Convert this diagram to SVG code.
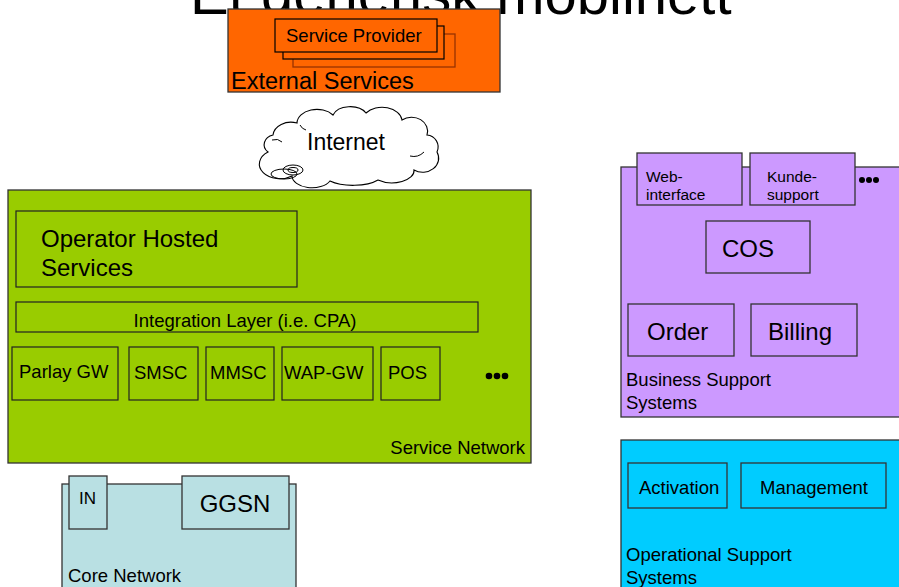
<svg xmlns="http://www.w3.org/2000/svg" width="899" height="587" viewBox="0 0 899 587">
<style>
text{font-family:"Liberation Sans",Arial,sans-serif;fill:#000}
.box{stroke:#333;stroke-width:1.3}
.inner{fill:none;stroke:#222;stroke-width:1.2}
.g{fill:#99CC00}.p{fill:#CC99FF}.c{fill:#00CCFF}.o{fill:#FF6600}.cn{fill:#B9E0E3}
.lbl{font-size:18.5px}
</style>
<rect width="899" height="587" fill="#fff"/>
<text x="190" y="14" font-size="58">Et generisk mobilnett</text>

<g id="external-services">
<rect class="box o" x="228" y="9" width="272" height="83"/>
<rect x="293" y="34" width="162" height="33" fill="#FF6600" stroke="#993300" stroke-width="1.3"/>
<rect x="283" y="26" width="161" height="33" fill="#FF6600" stroke="#000" stroke-width="1.2"/>
<rect x="275" y="19" width="162" height="33" fill="#FF6600" stroke="#000" stroke-width="1.2"/>
<text x="286" y="42" font-size="18.5">Service Provider</text>
<text x="231" y="89" font-size="23.5">External Services</text>
</g>

<g id="internet">
<path d="M268,152 A12,10 0 0 1 273,135 A18,14 0 0 1 297,123 A20,14 0 0 1 333,115 A18,12 0 0 1 366,113 A20,14 0 0 1 402,120 A16,14 0 0 1 427,135 A12,12 0 0 1 437,152 A16,14 0 0 1 414,170 A22,12 0 0 1 378,180 A30,12 0 0 1 330,181 A20,12 0 0 1 292,176 A14,10 0 0 1 268,152 Z" fill="#fff" stroke="#000" stroke-width="1.1"/>
<path d="M272,140 q6,-2 10,2 M410,156 q8,2 14,-4 M300,125 q2,4 6,5" fill="none" stroke="#000" stroke-width="1"/>
<ellipse cx="284" cy="174" rx="13" ry="5" fill="none" stroke="#000" stroke-width="1"/>
<ellipse cx="293" cy="170" rx="10" ry="5" fill="none" stroke="#000" stroke-width="1"/>
<ellipse cx="293" cy="170" rx="5" ry="2.5" fill="none" stroke="#000" stroke-width="1"/>
<text x="307" y="150" font-size="23">Internet</text>
</g>

<g id="service-network">
<rect class="box g" x="8" y="190" width="523" height="273"/>
<text x="525" y="454" class="lbl" text-anchor="end">Service Network</text>
</g>
<g id="operator-hosted">
<rect class="inner" x="16" y="211" width="281" height="76" stroke="#333"/>
<text x="41" y="247" font-size="24">Operator Hosted</text>
<text x="41" y="276" font-size="24">Services</text>
</g>
<g id="integration-layer">
<rect class="inner" x="16" y="302" width="462" height="30"/>
<text x="245" y="327" font-size="18.5" text-anchor="middle">Integration Layer (i.e. CPA)</text>
</g>
<g id="parlay-gw"><rect class="inner" x="12" y="347" width="106" height="53"/><text x="19" y="378" font-size="18.5">Parlay GW</text></g>
<g id="smsc"><rect class="inner" x="129" y="347" width="69" height="53"/><text x="134" y="379" font-size="18.5">SMSC</text></g>
<g id="mmsc"><rect class="inner" x="206" y="347" width="68" height="53"/><text x="210" y="379" font-size="18.5">MMSC</text></g>
<g id="wap-gw"><rect class="inner" x="282" y="347" width="91" height="53"/><text x="284" y="379" font-size="18.5">WAP-GW</text></g>
<g id="pos"><rect class="inner" x="381" y="347" width="59" height="53"/><text x="388" y="379" font-size="18.5">POS</text></g>
<g id="sn-more"><circle cx="489" cy="376" r="3.3"/><circle cx="497" cy="376" r="3.3"/><circle cx="505" cy="376" r="3.3"/></g>

<g id="bss">
<rect class="box p" x="621" y="167" width="285" height="250"/>
<text x="626" y="386" class="lbl">Business Support</text>
<text x="626" y="409" class="lbl">Systems</text>
</g>
<g id="web-interface"><rect class="box p" x="637" y="153" width="105" height="52"/><text x="646" y="182" font-size="15.5">Web-</text><text x="646" y="200" font-size="15.5">interface</text></g>
<g id="kundesupport"><rect class="box p" x="750" y="153" width="105" height="52"/><text x="767" y="182" font-size="15.5">Kunde-</text><text x="767" y="200" font-size="15.5">support</text></g>
<g id="bss-more"><circle cx="862" cy="180" r="3"/><circle cx="869" cy="180" r="3"/><circle cx="876" cy="180" r="3"/></g>
<g id="cos"><rect class="box" fill="none" x="706" y="221" width="104" height="52"/><text x="748" y="257" font-size="24" text-anchor="middle">COS</text></g>
<g id="order"><rect class="box" fill="none" x="628" y="304" width="106" height="52"/><text x="647" y="340" font-size="24">Order</text></g>
<g id="billing"><rect class="box" fill="none" x="751" y="304" width="106" height="52"/><text x="768" y="340" font-size="24">Billing</text></g>

<g id="oss">
<rect class="box c" x="621" y="440" width="285" height="150"/>
<text x="626" y="561" class="lbl">Operational Support</text>
<text x="626" y="584" class="lbl">Systems</text>
</g>
<g id="activation"><rect class="box" fill="none" x="628" y="463" width="99" height="45"/><text x="639" y="494" font-size="18.5">Activation</text></g>
<g id="management"><rect class="box" fill="none" x="741" y="463" width="145" height="45"/><text x="814" y="494" font-size="18.5" text-anchor="middle">Management</text></g>

<g id="core-network">
<rect class="box cn" x="62" y="484" width="234" height="106"/>
<text x="68" y="582" class="lbl">Core Network</text>
</g>
<g id="in"><rect class="box cn" x="69" y="476" width="38" height="53"/><text x="79" y="504" font-size="17">IN</text></g>
<g id="ggsn"><rect class="box cn" x="182" y="476" width="107" height="53"/><text x="235" y="512" font-size="24" text-anchor="middle">GGSN</text></g>

<g id="connectors"></g>
</svg>
